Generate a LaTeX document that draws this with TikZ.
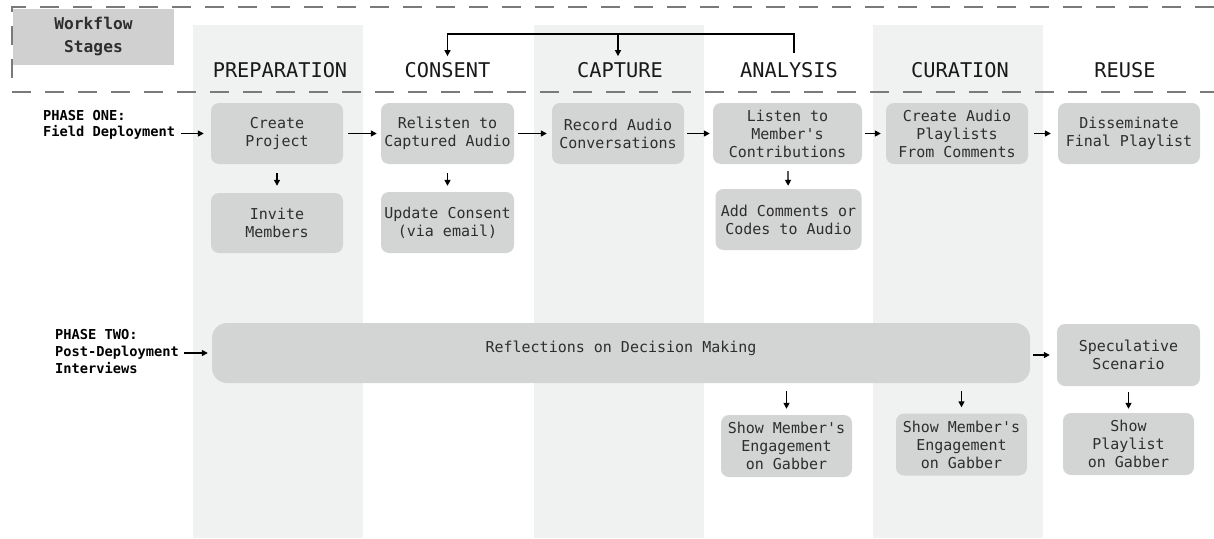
\documentclass[tikz,border=0pt]{standalone}
\usepackage{fontspec}
\newfontfamily\dmono{DejaVu Sans Mono}
\usetikzlibrary{arrows.meta}
\definecolor{bandgray}{HTML}{F0F1F1}
\definecolor{boxgray}{HTML}{D3D4D4}
\definecolor{wfgray}{HTML}{D0D0D0}
\definecolor{dashgray}{HTML}{7A7A7A}
\definecolor{txt}{HTML}{2E2E2E}
\tikzset{
  band/.style={fill=bandgray, draw=none},
  stepbox/.style={fill=boxgray, rounded corners=8pt, draw=none, align=center, inner sep=0pt,
    text=txt, font=\dmono\fontsize{15}{18}\selectfont},
  stagelbl/.style={inner sep=0pt, text=black!90, font=\dmono\fontsize{20.3}{22}\selectfont},
  phaselbl/.style={inner sep=0pt, align=left, anchor=west, text=black,
    font=\dmono\bfseries\fontsize{13.7}{16.5}\selectfont},
  arr/.style={line width=1.4pt, black, -{Triangle[length=6pt,width=6pt]}},
  frame/.style={draw=dashgray, line width=1.3pt, dash pattern=on 19pt off 14pt}
}
\begin{document}
\begin{tikzpicture}[x=1pt,y=-1pt]
\useasboundingbox (0,0) rectangle (1214,538);
% bands
\fill[band] (193,25) rectangle (363,538);
\fill[band] (534,25) rectangle (704,538);
\fill[band] (873,25) rectangle (1043,538);
% dashed frame
\draw[frame] (1214,7) -- (12,7) -- (12,92) -- (1214,92);
% workflow box
\node[fill=wfgray, minimum width=161pt, minimum height=56pt, inner sep=0pt, align=center,
  font=\dmono\bfseries\fontsize{16.2}{23}\selectfont, text=txt] (wf) at (93.5,37) {Workflow\\Stages};
% stage labels
\node[stagelbl] (prep) at (280,70) {PREPARATION};
\node[stagelbl] (cons) at (447.5,70) {CONSENT};
\node[stagelbl] (capt) at (620,70) {CAPTURE};
\node[stagelbl] (anal) at (789,70) {ANALYSIS};
\node[stagelbl] (cura) at (960,70) {CURATION};
\node[stagelbl] (reus) at (1125,70) {REUSE};
% bracket
\coordinate (brR) at (794,53);
\coordinate (brT) at (794,34);
\draw[arr, shorten >=6pt] (brR) -- (brT) -| (cons.north);
\draw[arr, shorten >=6pt] ([xshift=-2pt]capt.north |- brT) -- ([xshift=-2pt]capt.north);
% phase one row
\node[stepbox, minimum width=132pt, minimum height=61pt] (create) at (277,133.5) {Create\\Project};
\node[stepbox, minimum width=133pt, minimum height=61pt] (relisten) at (447.5,133.5) {Relisten to\\Captured Audio};
\node[stepbox, minimum width=132pt, minimum height=61pt] (record) at (618,133.5) {Record Audio\\Conversations};
\node[stepbox, minimum width=149pt, minimum height=61pt] (listen) at (787.5,133.5) {Listen to\\Member's\\Contributions};
\node[stepbox, minimum width=142pt, minimum height=61pt] (curate) at (957,133.5) {Create Audio\\Playlists\\From Comments};
\node[stepbox, minimum width=142pt, minimum height=61pt] (dissem) at (1129,133.5) {Disseminate\\Final Playlist};
\node[stepbox, minimum width=132pt, minimum height=60pt] (invite) at (277,223) {Invite\\Members};
\node[stepbox, minimum width=133pt, minimum height=61pt] (update) at (447.5,222.5) {Update Consent\\(via email)};
\node[stepbox, minimum width=146pt, minimum height=61pt] (addc) at (788.5,219.5) {Add Comments or\\Codes to Audio};
\node[phaselbl] (ph1) at (43,125) {PHASE ONE:\\Field Deployment};
\draw[arr, shorten <=6pt, shorten >=7pt] (ph1.east |- create.west) -- (create.west);
\draw[arr, shorten <=5pt, shorten >=4pt] (create) -- (relisten);
\draw[arr, shorten <=4pt, shorten >=5pt] (relisten) -- (record);
\draw[arr, shorten <=3pt, shorten >=3pt] (record) -- (listen);
\draw[arr, shorten <=3pt, shorten >=5pt] (listen) -- (curate);
\draw[arr, shorten <=6pt, shorten >=7pt] (curate) -- (dissem);
\draw[arr, shorten <=9pt, shorten >=7pt] (create) -- (invite);
\draw[arr, shorten <=9pt, shorten >=6pt] (relisten) -- (update);
\draw[arr, shorten <=7pt, shorten >=3pt] (listen) -- (addc);
% phase two row
\node[stepbox, rounded corners=15pt, minimum width=818pt, minimum height=60pt,
  text height=11pt, text depth=12.5pt] (reflect) at (621,353) {Reflections on Decision Making};
\node[stepbox, minimum width=143pt, minimum height=62pt] (spec) at (1128.5,355) {Speculative\\Scenario};
\node[stepbox, minimum width=131pt, minimum height=62pt] (show1) at (786.5,446) {Show Member's\\Engagement\\on Gabber};
\node[stepbox, minimum width=131pt, minimum height=62pt] (show2) at (961.5,444.5) {Show Member's\\Engagement\\on Gabber};
\node[stepbox, minimum width=131pt, minimum height=62pt] (showpl) at (1128.5,444) {Show\\Playlist\\on Gabber};
\node[phaselbl, font=\dmono\bfseries\fontsize{13.7}{17}\selectfont] (ph2) at (55,352) {PHASE TWO:\\Post-Deployment\\Interviews};
\draw[arr, shorten <=5pt, shorten >=4pt] (ph2.east |- reflect.west) -- (reflect.west);
\draw[arr, shorten <=3pt, shorten >=7pt] (reflect.east |- spec.west) -- (spec.west);
\draw[arr, shorten <=8pt, shorten >=6pt] (reflect.south -| show1.north) -- (show1.north);
\draw[arr, shorten <=8pt, shorten >=6pt] (reflect.south -| show2.north) -- (show2.north);
\draw[arr, shorten <=6pt, shorten >=4pt] (spec) -- (showpl);
\end{tikzpicture}
\end{document}
